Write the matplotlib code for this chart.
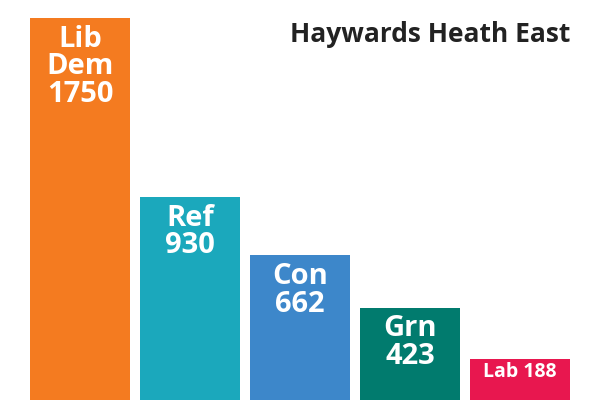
import matplotlib
matplotlib.use("Agg")
import matplotlib.pyplot as plt

parties = ["Lib\nDem", "Ref", "Con", "Grn", "Lab"]
votes = [1750, 930, 662, 423, 188]
colors = ["#F47B20", "#1BA8BC", "#3D87CA", "#017B6E", "#E8174F"]
title = "Haywards Heath East"

plt.rcParams["font.family"] = ["Open Sans", "DejaVu Sans"]

fig = plt.figure(figsize=(6, 4), dpi=100)
ax = fig.add_axes([0.05, 0.0, 0.9, 1.0])
x = range(len(votes))
ax.bar(x, votes, width=100 / 110, color=colors)
ax.set_xlim(-0.5 * 100 / 110, len(votes) - 1 + 0.5 * 100 / 110)
ax.set_ylim(0, 1750 * 400 / 382)
ax.axis("off")

for i, (p, v) in enumerate(zip(parties, votes)):
    if v < 300:
        ax.text(i, v - 15, f"{p} {v}", ha="center", va="top", color="white",
                fontsize=14, fontweight="bold")
    else:
        ax.text(i, v - 30, f"{p}\n{v}", ha="center", va="top", color="white",
                fontsize=21, fontweight="bold", linespacing=0.95)

fig.text(570 / 600, 1 - 35 / 400, title, ha="right", va="center",
         fontsize=19, fontweight="bold", color="#222222")

fig.savefig("out.png", dpi=100)
